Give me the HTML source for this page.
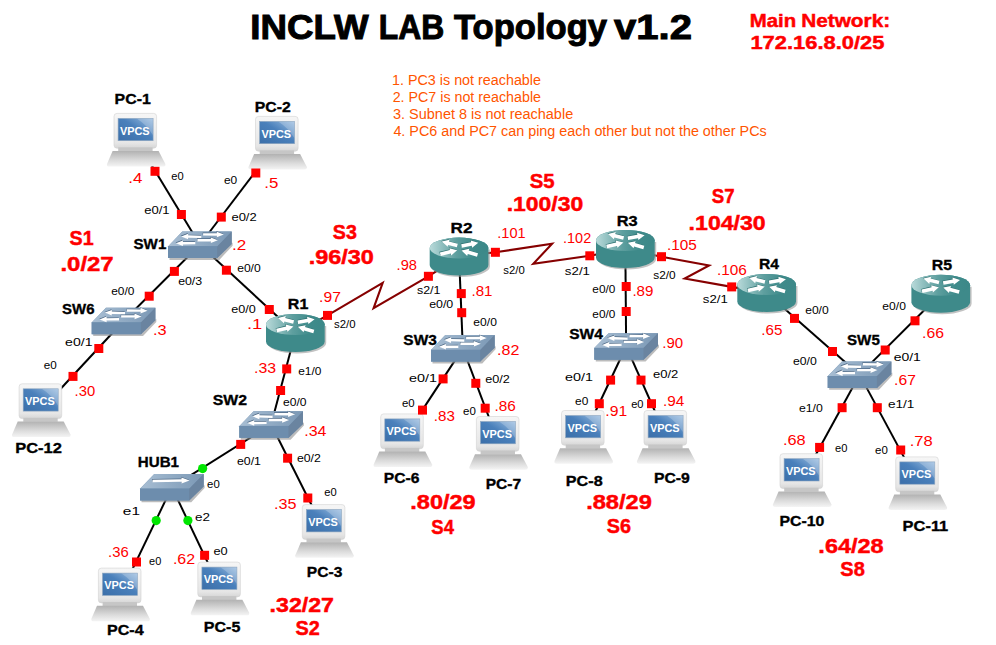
<!DOCTYPE html><html><head><meta charset="utf-8"><style>html,body{margin:0;padding:0;background:#fff;}svg{display:block;}text{font-family:"Liberation Sans",sans-serif;}</style></head><body>
<svg width="996" height="645" viewBox="0 0 996 645">
<defs>
<linearGradient id="gMon" x1="0" y1="0" x2="0" y2="1"><stop offset="0" stop-color="#f6f6f6"/><stop offset="0.85" stop-color="#e6e6e6"/><stop offset="1" stop-color="#d6d6d6"/></linearGradient>
<linearGradient id="gScr" x1="0" y1="1" x2="1" y2="0"><stop offset="0" stop-color="#3b6fa9"/><stop offset="0.55" stop-color="#4a80bb"/><stop offset="1" stop-color="#9bbde0"/></linearGradient>
<linearGradient id="gBase" x1="0" y1="0" x2="0" y2="1"><stop offset="0" stop-color="#b2b2b2"/><stop offset="0.6" stop-color="#dcdcdc"/><stop offset="1" stop-color="#f4f4f4"/></linearGradient>
<linearGradient id="gRtTop" x1="0" y1="0" x2="1" y2="0"><stop offset="0" stop-color="#b9dada"/><stop offset="0.45" stop-color="#5e9f9f"/><stop offset="0.75" stop-color="#3f8b8b"/><stop offset="1" stop-color="#3c8888"/></linearGradient>
<linearGradient id="gSwTop" x1="0" y1="0" x2="1" y2="0"><stop offset="0" stop-color="#a8bed3"/><stop offset="0.5" stop-color="#91abc4"/><stop offset="1" stop-color="#7b98b5"/></linearGradient>

<g id="pc"><rect x="7" y="0.4" width="42.6" height="34.8" rx="3" fill="url(#gMon)" stroke="#d2d2d2" stroke-width="0.6"/><rect x="11.1" y="5.4" width="35" height="22.3" fill="url(#gScr)" stroke="#8ea6bf" stroke-width="0.6"/><path d="M30,5.7 H45.8 V22 Q40,12 30,5.7 Z" fill="#ffffff" opacity="0.22"/><text x="12.9" y="21.7" font-size="10.5" font-weight="bold" fill="#fff" textLength="29.7" lengthAdjust="spacingAndGlyphs">VPCS</text><rect x="11.2" y="34.4" width="34.4" height="4" fill="#c6c6c6"/><path d="M5.6,38.1 H51.6 L58.4,51 Q58.8,53.6 56,53.6 H2.4 Q-0.6,53.6 0,51 Z" fill="url(#gBase)"/></g>
<g id="rt"><path d="M1.5,12 V29 A29.35,10.5 0 0 0 60.2,29 V12 Z" fill="#9a9a9a" opacity="0.6"/><path d="M0,10.5 V27.5 A29.35,10.5 0 0 0 58.7,27.5 V10.5 A29.35,10.5 0 0 0 0,10.5 Z" fill="#3e8a8a"/><ellipse cx="29.35" cy="10.5" rx="29.35" ry="10.5" fill="url(#gRtTop)"/><g fill="#2f7272" transform="translate(-0.5,-0.6)"><polygon points="28.05,6.16 19.23,3.9 19.7,2.05 12,3.9 17.86,9.22 18.33,7.38 27.15,9.64"/><polygon points="32.13,10.07 42.04,8.24 42.39,10.11 48.6,5.2 41.04,2.83 41.39,4.7 31.47,6.53"/><polygon points="11.02,18.35 21.01,15.97 21.45,17.82 27.4,12.6 19.73,10.62 20.17,12.47 10.18,14.85"/><polygon points="48.3,15.67 39.02,13 39.55,11.18 31.8,12.8 37.51,18.29 38.03,16.46 47.3,19.13"/></g><g fill="#ffffff"><polygon points="28.05,6.16 19.23,3.9 19.7,2.05 12,3.9 17.86,9.22 18.33,7.38 27.15,9.64"/><polygon points="32.13,10.07 42.04,8.24 42.39,10.11 48.6,5.2 41.04,2.83 41.39,4.7 31.47,6.53"/><polygon points="11.02,18.35 21.01,15.97 21.45,17.82 27.4,12.6 19.73,10.62 20.17,12.47 10.18,14.85"/><polygon points="48.3,15.67 39.02,13 39.55,11.18 31.8,12.8 37.51,18.29 38.03,16.46 47.3,19.13"/></g></g>
<g id="sw"><polygon points="1.5,25 50.5,25 64.6,11 64.6,14.2 51.3,28.4 1.5,28.4" fill="#8f8f8f" opacity="0.6"/><polygon points="14.3,0 63.7,0 63.7,12.6 49.3,26.5 0,26.5 0,14.9" fill="#6d8dad"/><polygon points="14.3,0 63.7,0 49.3,14.9 0,14.9" fill="url(#gSwTop)"/><rect x="0" y="14.6" width="49.5" height="11.9" fill="#6d8dad"/><polygon points="49.2,14.9 63.7,0 63.7,12.6 49.2,26.5" fill="#6a84a0"/><g fill="#4f6a86" transform="translate(-0.4,-0.7)"><polygon points="33.33,4.2 20.13,3.87 20.17,2.27 13.1,4.9 20.03,7.87 20.07,6.27 33.27,6.6"/><polygon points="35.09,4.05 48.79,4.15 48.78,5.75 55.8,3 48.82,0.15 48.81,1.75 35.11,1.65"/><polygon points="27.29,10.4 14.89,10.5 14.88,8.9 7.9,11.75 14.92,14.5 14.91,12.9 27.31,12.8"/><polygon points="29.4,9.9 42.8,9.9 42.8,11.5 49.8,8.7 42.8,5.9 42.8,7.5 29.4,7.5"/></g><g fill="#ffffff"><polygon points="33.33,4.2 20.13,3.87 20.17,2.27 13.1,4.9 20.03,7.87 20.07,6.27 33.27,6.6"/><polygon points="35.09,4.05 48.79,4.15 48.78,5.75 55.8,3 48.82,0.15 48.81,1.75 35.11,1.65"/><polygon points="27.29,10.4 14.89,10.5 14.88,8.9 7.9,11.75 14.92,14.5 14.91,12.9 27.31,12.8"/><polygon points="29.4,9.9 42.8,9.9 42.8,11.5 49.8,8.7 42.8,5.9 42.8,7.5 29.4,7.5"/></g></g>
<g id="hub"><polygon points="1.5,25 50.5,25 64.6,11 64.6,14.2 51.3,28.4 1.5,28.4" fill="#8f8f8f" opacity="0.6"/><polygon points="14.3,0 63.7,0 63.7,12.6 49.3,26.5 0,26.5 0,14.9" fill="#6d8dad"/><polygon points="14.3,0 63.7,0 49.3,14.9 0,14.9" fill="url(#gSwTop)"/><rect x="0" y="14.6" width="49.5" height="11.9" fill="#6d8dad"/><polygon points="49.2,14.9 63.7,0 63.7,12.6 49.2,26.5" fill="#6a84a0"/><g fill="#4f6a86" transform="translate(-0.4,-0.7)"><polygon points="12.52,8.4 41.52,7.93 41.55,9.63 49.5,6.5 41.45,3.63 41.48,5.33 12.48,5.8"/></g><g fill="#ffffff"><polygon points="12.52,8.4 41.52,7.93 41.55,9.63 49.5,6.5 41.45,3.63 41.48,5.33 12.48,5.8"/></g></g>
</defs>
<g stroke="#000" stroke-width="2" fill="none">
<line x1="136.1" y1="139.4" x2="199.85" y2="244.75"/>
<line x1="277.6" y1="142.4" x2="199.85" y2="244.75"/>
<line x1="199.85" y1="244.75" x2="123.55" y2="320.95"/>
<line x1="123.55" y1="320.95" x2="41.2" y2="409.8"/>
<line x1="199.85" y1="244.75" x2="295.35" y2="333"/>
<line x1="295.35" y1="333" x2="271.15" y2="424.55"/>
<line x1="271.15" y1="424.55" x2="171.85" y2="487.15"/>
<line x1="271.15" y1="424.55" x2="324.4" y2="530.6"/>
<line x1="171.85" y1="487.15" x2="120.5" y2="594.1"/>
<line x1="171.85" y1="487.15" x2="219.9" y2="588.1"/>
<line x1="459.05" y1="256.6" x2="462.85" y2="348.35"/>
<line x1="462.85" y1="348.35" x2="402.8" y2="439.9"/>
<line x1="462.85" y1="348.35" x2="498.5" y2="442.5"/>
<line x1="625.35" y1="249" x2="626.15" y2="346.45"/>
<line x1="626.15" y1="346.45" x2="583.6" y2="436.5"/>
<line x1="626.15" y1="346.45" x2="666.1" y2="436.5"/>
<line x1="766.65" y1="293" x2="859.55" y2="374.65"/>
<line x1="940.75" y1="293.7" x2="859.55" y2="374.65"/>
<line x1="859.55" y1="374.65" x2="802.1" y2="479.7"/>
<line x1="859.55" y1="374.65" x2="917.8" y2="482.9"/>
</g>
<g stroke="#860000" stroke-width="2.1" fill="none" stroke-linejoin="miter">
<polyline points="295.35,333 327.5,315.4 382.7,282.9 373.6,308.2 428.4,276.3 459.05,256.6"/>
<polyline points="459.05,256.6 495.4,252.3 552.1,243.7 533.3,263.8 589.8,255.8 625.35,249"/>
<polyline points="625.35,249 661.5,256.7 709.1,265.4 684.7,278.5 731.7,286.9 766.65,293"/>
</g>
<use href="#pc" x="107" y="113"/>
<use href="#pc" x="248.5" y="116"/>
<use href="#sw" x="168" y="231.5"/>
<use href="#sw" x="91.7" y="307.7"/>
<use href="#pc" x="12.1" y="383.4"/>
<use href="#rt" x="266" y="314"/>
<use href="#sw" x="239.3" y="411.3"/>
<use href="#hub" x="140" y="473.9"/>
<use href="#pc" x="91.4" y="567.7"/>
<use href="#pc" x="190.8" y="561.7"/>
<use href="#pc" x="295.3" y="504.2"/>
<use href="#rt" x="429.7" y="237.6"/>
<use href="#sw" x="431" y="335.1"/>
<use href="#pc" x="373.7" y="413.5"/>
<use href="#pc" x="469.4" y="416.1"/>
<use href="#rt" x="596" y="230"/>
<use href="#sw" x="594.3" y="333.2"/>
<use href="#pc" x="554.5" y="410.1"/>
<use href="#pc" x="637" y="410.1"/>
<use href="#rt" x="737.3" y="274"/>
<use href="#rt" x="911.4" y="274.7"/>
<use href="#sw" x="827.7" y="361.4"/>
<use href="#pc" x="773" y="453.3"/>
<use href="#pc" x="888.7" y="456.5"/>
<g fill="#ff0000">
<rect x="150.5" y="166.8" width="9" height="9"/>
<rect x="176.9" y="210" width="9" height="9"/>
<rect x="251.3" y="168.5" width="9" height="9"/>
<rect x="216.8" y="212.6" width="9" height="9"/>
<rect x="169.9" y="266.9" width="9" height="9"/>
<rect x="144.7" y="291.7" width="9" height="9"/>
<rect x="94.3" y="344" width="9" height="9"/>
<rect x="68.5" y="371.9" width="9" height="9"/>
<rect x="221.9" y="265.7" width="9" height="9"/>
<rect x="264.8" y="305" width="9" height="9"/>
<rect x="323" y="310.9" width="9" height="9"/>
<rect x="423.9" y="271.8" width="9" height="9"/>
<rect x="282.2" y="364.4" width="9" height="9"/>
<rect x="276.1" y="386" width="9" height="9"/>
<rect x="236.2" y="439.9" width="9" height="9"/>
<rect x="283.1" y="453.7" width="9" height="9"/>
<rect x="303.3" y="493.5" width="9" height="9"/>
<rect x="132" y="557.5" width="9" height="9"/>
<rect x="200.1" y="550.8" width="9" height="9"/>
<rect x="456.8" y="289.1" width="9" height="9"/>
<rect x="457.2" y="308.2" width="9" height="9"/>
<rect x="438.6" y="374.4" width="9" height="9"/>
<rect x="471.3" y="378.8" width="9" height="9"/>
<rect x="418" y="405.6" width="9" height="9"/>
<rect x="480.7" y="403.7" width="9" height="9"/>
<rect x="490.9" y="247.8" width="9" height="9"/>
<rect x="585.3" y="251.3" width="9" height="9"/>
<rect x="621.7" y="282" width="9" height="9"/>
<rect x="621.7" y="307" width="9" height="9"/>
<rect x="606.1" y="375.6" width="9" height="9"/>
<rect x="636.5" y="375.6" width="9" height="9"/>
<rect x="594.8" y="399.2" width="9" height="9"/>
<rect x="647" y="399.2" width="9" height="9"/>
<rect x="657" y="252.2" width="9" height="9"/>
<rect x="727.2" y="282.4" width="9" height="9"/>
<rect x="790" y="313.9" width="9" height="9"/>
<rect x="828" y="347" width="9" height="9"/>
<rect x="910.5" y="316.3" width="9" height="9"/>
<rect x="880.7" y="345.5" width="9" height="9"/>
<rect x="837.6" y="403.2" width="9" height="9"/>
<rect x="872.8" y="403.2" width="9" height="9"/>
<rect x="815.1" y="442.9" width="9" height="9"/>
<rect x="896.2" y="445.5" width="9" height="9"/>
</g><g fill="#00e600">
<circle cx="202.6" cy="468.6" r="4.6"/>
<circle cx="156.2" cy="520.6" r="4.6"/>
<circle cx="187.9" cy="520.6" r="4.6"/>
</g>
<text x="250.37" y="38.6" font-size="34.5" font-weight="bold" fill="#000000" stroke="#000000" stroke-width="1" textLength="118.25" lengthAdjust="spacingAndGlyphs">INCLW</text>
<text x="378.84" y="38.6" font-size="34.5" font-weight="bold" fill="#000000" stroke="#000000" stroke-width="1" textLength="65.45" lengthAdjust="spacingAndGlyphs">LAB</text>
<text x="453.98" y="38.6" font-size="34.5" font-weight="bold" fill="#000000" stroke="#000000" stroke-width="1" textLength="153.04" lengthAdjust="spacingAndGlyphs">Topology</text>
<text x="614.08" y="38.6" font-size="34.5" font-weight="bold" fill="#000000" stroke="#000000" stroke-width="1" textLength="77.89" lengthAdjust="spacingAndGlyphs">v1.2</text>
<text x="749.71" y="26.7" font-size="17.8" font-weight="bold" fill="#ff0000" stroke="#ff0000" stroke-width="0.45" textLength="46.46" lengthAdjust="spacingAndGlyphs">Main</text>
<text x="801.2" y="26.7" font-size="17.8" font-weight="bold" fill="#ff0000" stroke="#ff0000" stroke-width="0.45" textLength="88.94" lengthAdjust="spacingAndGlyphs">Network:</text>
<text x="750.45" y="49.2" font-size="17.5" font-weight="bold" fill="#ff0000" stroke="#ff0000" stroke-width="0.45" textLength="133.88" lengthAdjust="spacingAndGlyphs">172.16.8.0/25</text>
<text x="392.02" y="84.5" font-size="14.9" fill="#ff5500" textLength="148.96" lengthAdjust="spacingAndGlyphs">1. PC3 is not reachable</text>
<text x="392.64" y="101.6" font-size="14.9" fill="#ff5500" textLength="148.37" lengthAdjust="spacingAndGlyphs">2. PC7 is not reachable</text>
<text x="393.03" y="119.2" font-size="14.9" fill="#ff5500" textLength="180.16" lengthAdjust="spacingAndGlyphs">3. Subnet 8 is not reachable</text>
<text x="393.38" y="136.3" font-size="14.9" fill="#ff5500" textLength="373.29" lengthAdjust="spacingAndGlyphs">4. PC6 and PC7 can ping each other but not the other PCs</text>
<text x="114.64" y="104.1" font-size="15.4" font-weight="bold" fill="#000000" stroke="#000000" stroke-width="0.35" textLength="36.21" lengthAdjust="spacingAndGlyphs">PC-1</text>
<text x="254.8" y="112.3" font-size="15.4" font-weight="bold" fill="#000000" stroke="#000000" stroke-width="0.35" textLength="35.95" lengthAdjust="spacingAndGlyphs">PC-2</text>
<text x="133.55" y="248.8" font-size="15.4" font-weight="bold" fill="#000000" stroke="#000000" stroke-width="0.35" textLength="32.74" lengthAdjust="spacingAndGlyphs">SW1</text>
<text x="62.1" y="313.75" font-size="15.4" font-weight="bold" fill="#000000" stroke="#000000" stroke-width="0.35" textLength="32.39" lengthAdjust="spacingAndGlyphs">SW6</text>
<text x="15.15" y="452.6" font-size="15.4" font-weight="bold" fill="#000000" stroke="#000000" stroke-width="0.35" textLength="46.75" lengthAdjust="spacingAndGlyphs">PC-12</text>
<text x="287.83" y="308.6" font-size="15.4" font-weight="bold" fill="#000000" stroke="#000000" stroke-width="0.35" textLength="20.48" lengthAdjust="spacingAndGlyphs">R1</text>
<text x="212.82" y="405" font-size="15.4" font-weight="bold" fill="#000000" stroke="#000000" stroke-width="0.35" textLength="34.31" lengthAdjust="spacingAndGlyphs">SW2</text>
<text x="137.77" y="466.6" font-size="15.4" font-weight="bold" fill="#000000" stroke="#000000" stroke-width="0.35" textLength="41.21" lengthAdjust="spacingAndGlyphs">HUB1</text>
<text x="106.94" y="634.9" font-size="15.4" font-weight="bold" fill="#000000" stroke="#000000" stroke-width="0.35" textLength="36.68" lengthAdjust="spacingAndGlyphs">PC-4</text>
<text x="203.83" y="631.9" font-size="15.4" font-weight="bold" fill="#000000" stroke="#000000" stroke-width="0.35" textLength="36.51" lengthAdjust="spacingAndGlyphs">PC-5</text>
<text x="306.87" y="576.7" font-size="15.4" font-weight="bold" fill="#000000" stroke="#000000" stroke-width="0.35" textLength="35.53" lengthAdjust="spacingAndGlyphs">PC-3</text>
<text x="450.62" y="232.6" font-size="15.4" font-weight="bold" fill="#000000" stroke="#000000" stroke-width="0.35" textLength="21.91" lengthAdjust="spacingAndGlyphs">R2</text>
<text x="403.37" y="345" font-size="15.4" font-weight="bold" fill="#000000" stroke="#000000" stroke-width="0.35" textLength="33.47" lengthAdjust="spacingAndGlyphs">SW3</text>
<text x="383.75" y="482.8" font-size="15.4" font-weight="bold" fill="#000000" stroke="#000000" stroke-width="0.35" textLength="35.74" lengthAdjust="spacingAndGlyphs">PC-6</text>
<text x="485.77" y="488.6" font-size="15.4" font-weight="bold" fill="#000000" stroke="#000000" stroke-width="0.35" textLength="35.38" lengthAdjust="spacingAndGlyphs">PC-7</text>
<text x="616.79" y="225.5" font-size="15.4" font-weight="bold" fill="#000000" stroke="#000000" stroke-width="0.35" textLength="20.95" lengthAdjust="spacingAndGlyphs">R3</text>
<text x="569.22" y="338.6" font-size="15.4" font-weight="bold" fill="#000000" stroke="#000000" stroke-width="0.35" textLength="33.62" lengthAdjust="spacingAndGlyphs">SW4</text>
<text x="565.85" y="486" font-size="15.4" font-weight="bold" fill="#000000" stroke="#000000" stroke-width="0.35" textLength="36.78" lengthAdjust="spacingAndGlyphs">PC-8</text>
<text x="653.96" y="483.3" font-size="15.4" font-weight="bold" fill="#000000" stroke="#000000" stroke-width="0.35" textLength="35.92" lengthAdjust="spacingAndGlyphs">PC-9</text>
<text x="758.97" y="268.8" font-size="15.4" font-weight="bold" fill="#000000" stroke="#000000" stroke-width="0.35" textLength="19.99" lengthAdjust="spacingAndGlyphs">R4</text>
<text x="931.74" y="269.6" font-size="15.4" font-weight="bold" fill="#000000" stroke="#000000" stroke-width="0.35" textLength="20.38" lengthAdjust="spacingAndGlyphs">R5</text>
<text x="847.04" y="344.9" font-size="15.4" font-weight="bold" fill="#000000" stroke="#000000" stroke-width="0.35" textLength="32.78" lengthAdjust="spacingAndGlyphs">SW5</text>
<text x="779.43" y="525.6" font-size="15.4" font-weight="bold" fill="#000000" stroke="#000000" stroke-width="0.35" textLength="44.89" lengthAdjust="spacingAndGlyphs">PC-10</text>
<text x="902.61" y="530.8" font-size="15.4" font-weight="bold" fill="#000000" stroke="#000000" stroke-width="0.35" textLength="45.63" lengthAdjust="spacingAndGlyphs">PC-11</text>
<text x="69.52" y="245.1" font-size="19.5" font-weight="bold" fill="#ff0000" stroke="#ff0000" stroke-width="0.45" textLength="24.07" lengthAdjust="spacingAndGlyphs">S1</text>
<text x="60.43" y="270.9" font-size="19.5" font-weight="bold" fill="#ff0000" stroke="#ff0000" stroke-width="0.45" textLength="53.26" lengthAdjust="spacingAndGlyphs">.0/27</text>
<text x="332.86" y="238.8" font-size="19.5" font-weight="bold" fill="#ff0000" stroke="#ff0000" stroke-width="0.45" textLength="24.05" lengthAdjust="spacingAndGlyphs">S3</text>
<text x="308.66" y="264" font-size="19.5" font-weight="bold" fill="#ff0000" stroke="#ff0000" stroke-width="0.45" textLength="65.28" lengthAdjust="spacingAndGlyphs">.96/30</text>
<text x="529.69" y="188.3" font-size="19.5" font-weight="bold" fill="#ff0000" stroke="#ff0000" stroke-width="0.45" textLength="24.87" lengthAdjust="spacingAndGlyphs">S5</text>
<text x="506.66" y="211.1" font-size="19.5" font-weight="bold" fill="#ff0000" stroke="#ff0000" stroke-width="0.45" textLength="76.56" lengthAdjust="spacingAndGlyphs">.100/30</text>
<text x="711.82" y="203.3" font-size="19.5" font-weight="bold" fill="#ff0000" stroke="#ff0000" stroke-width="0.45" textLength="22.84" lengthAdjust="spacingAndGlyphs">S7</text>
<text x="688.61" y="230.1" font-size="19.5" font-weight="bold" fill="#ff0000" stroke="#ff0000" stroke-width="0.45" textLength="77.09" lengthAdjust="spacingAndGlyphs">.104/30</text>
<text x="269.6" y="612.1" font-size="19.5" font-weight="bold" fill="#ff0000" stroke="#ff0000" stroke-width="0.45" textLength="64.39" lengthAdjust="spacingAndGlyphs">.32/27</text>
<text x="295.59" y="635" font-size="19.5" font-weight="bold" fill="#ff0000" stroke="#ff0000" stroke-width="0.45" textLength="24.3" lengthAdjust="spacingAndGlyphs">S2</text>
<text x="410.3" y="508.9" font-size="19.5" font-weight="bold" fill="#ff0000" stroke="#ff0000" stroke-width="0.45" textLength="65.29" lengthAdjust="spacingAndGlyphs">.80/29</text>
<text x="431.33" y="533.9" font-size="19.5" font-weight="bold" fill="#ff0000" stroke="#ff0000" stroke-width="0.45" textLength="22.63" lengthAdjust="spacingAndGlyphs">S4</text>
<text x="586.16" y="509.4" font-size="19.5" font-weight="bold" fill="#ff0000" stroke="#ff0000" stroke-width="0.45" textLength="65.74" lengthAdjust="spacingAndGlyphs">.88/29</text>
<text x="606.82" y="532.6" font-size="19.5" font-weight="bold" fill="#ff0000" stroke="#ff0000" stroke-width="0.45" textLength="24.24" lengthAdjust="spacingAndGlyphs">S6</text>
<text x="818.37" y="553.1" font-size="19.5" font-weight="bold" fill="#ff0000" stroke="#ff0000" stroke-width="0.45" textLength="65.27" lengthAdjust="spacingAndGlyphs">.64/28</text>
<text x="840.38" y="575.9" font-size="19.5" font-weight="bold" fill="#ff0000" stroke="#ff0000" stroke-width="0.45" textLength="24.47" lengthAdjust="spacingAndGlyphs">S8</text>
<text x="128.39" y="183" font-size="15" fill="#ff0000" textLength="14.14" lengthAdjust="spacingAndGlyphs">.4</text>
<text x="264.21" y="188.4" font-size="15" fill="#ff0000" textLength="14.04" lengthAdjust="spacingAndGlyphs">.5</text>
<text x="232.01" y="249.5" font-size="15" fill="#ff0000" textLength="14.28" lengthAdjust="spacingAndGlyphs">.2</text>
<text x="153.06" y="334.5" font-size="15" fill="#ff0000" textLength="13.65" lengthAdjust="spacingAndGlyphs">.3</text>
<text x="74.55" y="396" font-size="15" fill="#ff0000" textLength="20.59" lengthAdjust="spacingAndGlyphs">.30</text>
<text x="246.98" y="328.5" font-size="15" fill="#ff0000" textLength="15.31" lengthAdjust="spacingAndGlyphs">.1</text>
<text x="319.14" y="301.9" font-size="15" fill="#ff0000" textLength="21.76" lengthAdjust="spacingAndGlyphs">.97</text>
<text x="253.99" y="372.5" font-size="15" fill="#ff0000" textLength="22.07" lengthAdjust="spacingAndGlyphs">.33</text>
<text x="304.28" y="436.3" font-size="15" fill="#ff0000" textLength="22.23" lengthAdjust="spacingAndGlyphs">.34</text>
<text x="108.05" y="557" font-size="15" fill="#ff0000" textLength="20.68" lengthAdjust="spacingAndGlyphs">.36</text>
<text x="172.91" y="563.5" font-size="15" fill="#ff0000" textLength="22.25" lengthAdjust="spacingAndGlyphs">.62</text>
<text x="274" y="508.7" font-size="15" fill="#ff0000" textLength="22.48" lengthAdjust="spacingAndGlyphs">.35</text>
<text x="396.6" y="270" font-size="15" fill="#ff0000" textLength="20.39" lengthAdjust="spacingAndGlyphs">.98</text>
<text x="497.32" y="238.1" font-size="15" fill="#ff0000" textLength="28.31" lengthAdjust="spacingAndGlyphs">.101</text>
<text x="471.45" y="296.3" font-size="15" fill="#ff0000" textLength="20.96" lengthAdjust="spacingAndGlyphs">.81</text>
<text x="497.1" y="354.8" font-size="15" fill="#ff0000" textLength="22.33" lengthAdjust="spacingAndGlyphs">.82</text>
<text x="433.82" y="421.1" font-size="15" fill="#ff0000" textLength="21.07" lengthAdjust="spacingAndGlyphs">.83</text>
<text x="494.42" y="411.4" font-size="15" fill="#ff0000" textLength="21.28" lengthAdjust="spacingAndGlyphs">.86</text>
<text x="563.06" y="243.2" font-size="15" fill="#ff0000" textLength="28.13" lengthAdjust="spacingAndGlyphs">.102</text>
<text x="666.97" y="249.7" font-size="15" fill="#ff0000" textLength="29.82" lengthAdjust="spacingAndGlyphs">.105</text>
<text x="716.9" y="274.9" font-size="15" fill="#ff0000" textLength="29.91" lengthAdjust="spacingAndGlyphs">.106</text>
<text x="632.41" y="296.3" font-size="15" fill="#ff0000" textLength="21.07" lengthAdjust="spacingAndGlyphs">.89</text>
<text x="662.31" y="348" font-size="15" fill="#ff0000" textLength="20.88" lengthAdjust="spacingAndGlyphs">.90</text>
<text x="605.36" y="416.1" font-size="15" fill="#ff0000" textLength="21.88" lengthAdjust="spacingAndGlyphs">.91</text>
<text x="663.04" y="405.5" font-size="15" fill="#ff0000" textLength="21.31" lengthAdjust="spacingAndGlyphs">.94</text>
<text x="761.31" y="334.8" font-size="15" fill="#ff0000" textLength="21.13" lengthAdjust="spacingAndGlyphs">.65</text>
<text x="922.13" y="337.8" font-size="15" fill="#ff0000" textLength="21.9" lengthAdjust="spacingAndGlyphs">.66</text>
<text x="894.08" y="384.5" font-size="15" fill="#ff0000" textLength="21.78" lengthAdjust="spacingAndGlyphs">.67</text>
<text x="782.94" y="444.7" font-size="15" fill="#ff0000" textLength="22.76" lengthAdjust="spacingAndGlyphs">.68</text>
<text x="909.73" y="445.6" font-size="15" fill="#ff0000" textLength="23.01" lengthAdjust="spacingAndGlyphs">.78</text>
<text x="171.36" y="179.7" font-size="11.5" fill="#000000" textLength="12.39" lengthAdjust="spacingAndGlyphs">e0</text>
<text x="144.16" y="214" font-size="11.5" fill="#000000" textLength="25.44" lengthAdjust="spacingAndGlyphs">e0/1</text>
<text x="224.01" y="183.7" font-size="11.5" fill="#000000" textLength="13.24" lengthAdjust="spacingAndGlyphs">e0</text>
<text x="231.41" y="221.2" font-size="11.5" fill="#000000" textLength="25.3" lengthAdjust="spacingAndGlyphs">e0/2</text>
<text x="178.17" y="284.9" font-size="11.5" fill="#000000" textLength="24" lengthAdjust="spacingAndGlyphs">e0/3</text>
<text x="111.18" y="295" font-size="11.5" fill="#000000" textLength="23.15" lengthAdjust="spacingAndGlyphs">e0/0</text>
<text x="65.12" y="345.9" font-size="11.5" fill="#000000" textLength="27.41" lengthAdjust="spacingAndGlyphs">e0/1</text>
<text x="43.76" y="369.3" font-size="11.5" fill="#000000" textLength="12.99" lengthAdjust="spacingAndGlyphs">e0</text>
<text x="237.15" y="272" font-size="11.5" fill="#000000" textLength="23.58" lengthAdjust="spacingAndGlyphs">e0/0</text>
<text x="231.17" y="312.5" font-size="11.5" fill="#000000" textLength="24.53" lengthAdjust="spacingAndGlyphs">e0/0</text>
<text x="334.07" y="328" font-size="11.5" fill="#000000" textLength="21.55" lengthAdjust="spacingAndGlyphs">s2/0</text>
<text x="298.2" y="374.8" font-size="11.5" fill="#000000" textLength="23.14" lengthAdjust="spacingAndGlyphs">e1/0</text>
<text x="283.01" y="406.2" font-size="11.5" fill="#000000" textLength="23.51" lengthAdjust="spacingAndGlyphs">e0/0</text>
<text x="236.93" y="465.2" font-size="11.5" fill="#000000" textLength="24.02" lengthAdjust="spacingAndGlyphs">e0/1</text>
<text x="296.95" y="462.3" font-size="11.5" fill="#000000" textLength="23.91" lengthAdjust="spacingAndGlyphs">e0/2</text>
<text x="207.1" y="487.8" font-size="11.5" fill="#000000" textLength="12.64" lengthAdjust="spacingAndGlyphs">e0</text>
<text x="122.86" y="514.6" font-size="11.5" fill="#000000" textLength="17.16" lengthAdjust="spacingAndGlyphs">e1</text>
<text x="194.94" y="521" font-size="11.5" fill="#000000" textLength="14.96" lengthAdjust="spacingAndGlyphs">e2</text>
<text x="149.12" y="565.4" font-size="11.5" fill="#000000" textLength="12.22" lengthAdjust="spacingAndGlyphs">e0</text>
<text x="213.42" y="555" font-size="11.5" fill="#000000" textLength="14.22" lengthAdjust="spacingAndGlyphs">e0</text>
<text x="324.24" y="495.9" font-size="11.5" fill="#000000" textLength="12.43" lengthAdjust="spacingAndGlyphs">e0</text>
<text x="416.93" y="293.7" font-size="11.5" fill="#000000" textLength="23.51" lengthAdjust="spacingAndGlyphs">s2/1</text>
<text x="503.3" y="273.9" font-size="11.5" fill="#000000" textLength="21.41" lengthAdjust="spacingAndGlyphs">s2/0</text>
<text x="429.17" y="307.9" font-size="11.5" fill="#000000" textLength="24.11" lengthAdjust="spacingAndGlyphs">e0/0</text>
<text x="473.38" y="325.8" font-size="11.5" fill="#000000" textLength="23.48" lengthAdjust="spacingAndGlyphs">e0/0</text>
<text x="409" y="381.5" font-size="11.5" fill="#000000" textLength="27.98" lengthAdjust="spacingAndGlyphs">e0/1</text>
<text x="485.16" y="382.5" font-size="11.5" fill="#000000" textLength="24.69" lengthAdjust="spacingAndGlyphs">e0/2</text>
<text x="401.98" y="406.9" font-size="11.5" fill="#000000" textLength="12.67" lengthAdjust="spacingAndGlyphs">e0</text>
<text x="463.12" y="414.8" font-size="11.5" fill="#000000" textLength="12.79" lengthAdjust="spacingAndGlyphs">e0</text>
<text x="564.88" y="274.6" font-size="11.5" fill="#000000" textLength="25.12" lengthAdjust="spacingAndGlyphs">s2/1</text>
<text x="653.29" y="278.7" font-size="11.5" fill="#000000" textLength="22.45" lengthAdjust="spacingAndGlyphs">s2/0</text>
<text x="592.38" y="292.6" font-size="11.5" fill="#000000" textLength="23.03" lengthAdjust="spacingAndGlyphs">e0/0</text>
<text x="592.38" y="317.5" font-size="11.5" fill="#000000" textLength="23.03" lengthAdjust="spacingAndGlyphs">e0/0</text>
<text x="565" y="380.7" font-size="11.5" fill="#000000" textLength="27.98" lengthAdjust="spacingAndGlyphs">e0/1</text>
<text x="652.96" y="377.5" font-size="11.5" fill="#000000" textLength="25.41" lengthAdjust="spacingAndGlyphs">e0/2</text>
<text x="575.09" y="405" font-size="11.5" fill="#000000" textLength="13.24" lengthAdjust="spacingAndGlyphs">e0</text>
<text x="631.16" y="407.7" font-size="11.5" fill="#000000" textLength="12.34" lengthAdjust="spacingAndGlyphs">e0</text>
<text x="702.88" y="302.7" font-size="11.5" fill="#000000" textLength="25" lengthAdjust="spacingAndGlyphs">s2/1</text>
<text x="805.19" y="313.9" font-size="11.5" fill="#000000" textLength="23.52" lengthAdjust="spacingAndGlyphs">e0/0</text>
<text x="792.95" y="365.1" font-size="11.5" fill="#000000" textLength="23.81" lengthAdjust="spacingAndGlyphs">e0/0</text>
<text x="882.38" y="309.6" font-size="11.5" fill="#000000" textLength="23.5" lengthAdjust="spacingAndGlyphs">e0/0</text>
<text x="893.68" y="360.8" font-size="11.5" fill="#000000" textLength="27.17" lengthAdjust="spacingAndGlyphs">e0/1</text>
<text x="798.97" y="411.6" font-size="11.5" fill="#000000" textLength="23.82" lengthAdjust="spacingAndGlyphs">e1/0</text>
<text x="887.92" y="407.7" font-size="11.5" fill="#000000" textLength="26.47" lengthAdjust="spacingAndGlyphs">e1/1</text>
<text x="835.12" y="452.3" font-size="11.5" fill="#000000" textLength="12.4" lengthAdjust="spacingAndGlyphs">e0</text>
<text x="875.1" y="454.3" font-size="11.5" fill="#000000" textLength="12.77" lengthAdjust="spacingAndGlyphs">e0</text>
</svg></body></html>
